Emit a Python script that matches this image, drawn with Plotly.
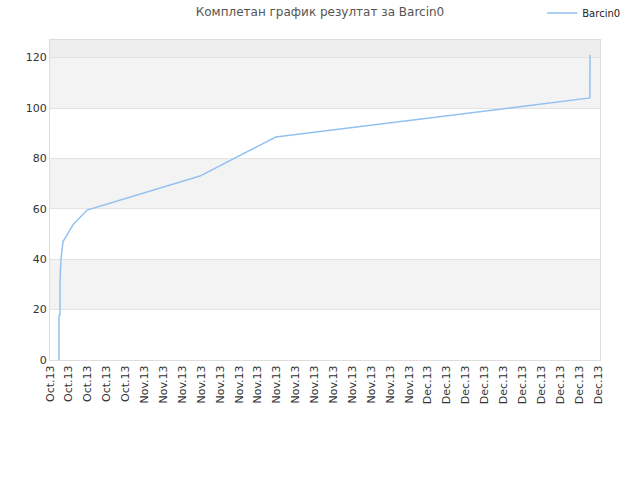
import plotly.graph_objects as go

FONT = "DejaVu Sans, Arial, sans-serif"
LINE_COLOR = "#92c1f0"

# cumulative results of Barcin0
dates = [
    "2013-10-22 22:48", "2013-10-22 22:50", "2013-10-23 01:26", "2013-10-23 01:30",
    "2013-10-23 03:50", "2013-10-23 06:29", "2013-10-23 09:07", "2013-10-24 12:00",
    "2013-10-25 22:05", "2013-11-06 20:53", "2013-11-14 21:36", "2013-12-18 03:22",
    "2013-12-18 03:40",
]
points = [0, 17.6, 18, 32, 40, 45, 47, 54, 59.5, 73, 88.5, 104, 121]

band_edges = [0, 20, 40, 60, 80, 100, 120, 127]
band_colors = ["#ffffff", "#f3f3f3", "#ffffff", "#f3f3f3", "#ffffff", "#f3f3f3", "#eeeeee"]

fig = go.Figure()
fig.add_trace(go.Scatter(
    x=dates,
    y=points,
    mode="lines",
    name="Barcin0",
    line=dict(color=LINE_COLOR, width=1.5),
))

for lo, hi, col in zip(band_edges[:-1], band_edges[1:], band_colors):
    fig.add_shape(type="rect", xref="paper", yref="y", x0=0, x1=1, y0=lo, y1=hi,
                  fillcolor=col, line_width=0, layer="below")

fig.update_layout(
    width=640,
    height=480,
    font=dict(family=FONT, size=11, color="#333333"),
    paper_bgcolor="white",
    plot_bgcolor="white",
    margin=dict(l=50, r=40, t=40, b=120, autoexpand=False),
    title=dict(text="Комплетан график резултат за Barcin0", x=0.5, xanchor="center",
               y=0.975, yanchor="middle", pad=dict(t=0, b=0),
               font=dict(size=12, color="#555555")),
    showlegend=True,
    legend=dict(x=0.895, xanchor="left", y=1.084, yanchor="middle",
                font=dict(size=10, color="#222222"), bgcolor="rgba(0,0,0,0)"),
)
fig.update_xaxes(
    type="date",
    range=["2013-10-22 00:00", "2013-12-19 05:05"],
    tick0="2013-10-22",
    dtick=2 * 86400000,
    tickformat="%b.%y",
    tickangle=-90,
    showgrid=False,
    showline=True,
    linecolor="#dddddd",
    mirror=True,
    ticks="",
    tickfont=dict(size=11, color="#333333"),
    zeroline=False,
    automargin=False,
)
fig.update_yaxes(
    range=[0, 127],
    dtick=20,
    showgrid=True,
    gridcolor="#e3e3e3",
    showline=True,
    linecolor="#dddddd",
    mirror=True,
    zeroline=False,
    ticks="",
    tickfont=dict(size=11, color="#333333"),
    automargin=False,
)

# drop the default 8px body margin so the figure sits at the page corner
fig.write_html("out.html", config={"displayModeBar": False},
               post_script="document.body.style.margin='0px';")
